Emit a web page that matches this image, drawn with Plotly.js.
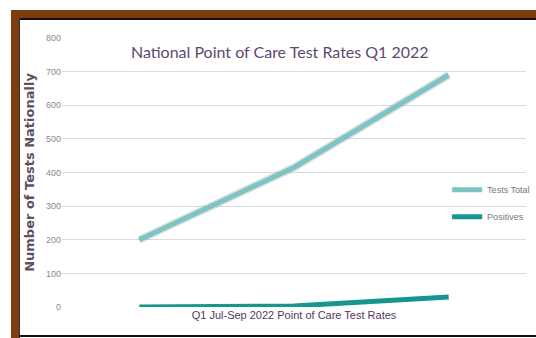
<!DOCTYPE html>
<html>
<head>
<meta charset="utf-8">
<script src="https://cdn.plot.ly/plotly-3.0.1.min.js"></script>
<style>
html,body{margin:0;padding:0;background:#fff;width:536px;height:338px;overflow:hidden;}
.f{position:absolute;}
#chart{position:absolute;left:0;top:0;width:536px;height:338px;}
</style>
</head>
<body>
<div class="f" style="left:11px;top:10px;width:525px;height:8px;background:#7d3c10;"></div>
<div class="f" style="left:11px;top:10px;width:8px;height:328px;background:#7d3c10;"></div>
<div class="f" style="left:19px;top:18px;width:517px;height:2px;background:#111;"></div>
<div class="f" style="left:19px;top:18px;width:1px;height:320px;background:#333;"></div>
<div class="f" style="left:19px;top:335px;width:517px;height:2px;background:#111;"></div>
<div id="chart"></div>
<script>
const months = ["Jul", "Aug", "Sep"];
const testsTotal = [200, 415, 690];
const positives = [0, 3, 30];
const yTicks = [0, 100, 200, 300, 400, 500, 600, 700, 800];

const traces = [
  {x: months, y: testsTotal, type: "scatter", mode: "lines", showlegend: false, hoverinfo: "skip",
   line: {color: "rgba(120,130,130,0.25)", width: 8}},
  {x: months, y: testsTotal, type: "scatter", mode: "lines", name: "Tests Total", legendgroup: "a",
   line: {color: "#7cc5c3", width: 5}},
  {x: months, y: positives, type: "scatter", mode: "lines", name: "Positives", legendgroup: "b",
   line: {color: "#17958f", width: 5}}
];

const layout = {
  width: 536, height: 338,
  paper_bgcolor: "rgba(0,0,0,0)", plot_bgcolor: "rgba(0,0,0,0)",
  margin: {l: 62, r: 10, t: 38, b: 31, autoexpand: false},
  title: {text: "National Point of Care Test Rates Q1 2022", x: 0.522, xanchor: "center", y: 0.845, yanchor: "middle",
          font: {family: "Lato, sans-serif", size: 16, color: "#5c4a70"}},
  xaxis: {type: "category", showticklabels: false, showgrid: false, zeroline: false, showline: false,
          range: [-0.5, 2.5],
          title: {text: "Q1 Jul-Sep 2022 Point of Care Test Rates", standoff: 4,
                  font: {family: "Liberation Sans, Arial, sans-serif", size: 11, color: "#4e3a5e"}}},
  yaxis: {range: [0, 800], tickvals: yTicks, ticktext: yTicks.map(String), showgrid: true, gridcolor: "#dcd8dc", gridwidth: 1,
          zeroline: false, showline: false, ticks: "", ticklen: 0,
          tickfont: {family: "Liberation Sans, Arial, sans-serif", size: 9, color: "#8a8a8a"},
          title: {text: "<b>Number of Tests Nationally</b>", standoff: 8,
                  font: {family: "DejaVu Sans, sans-serif", size: 13, color: "#5a5262"}}},
  legend: {x: 0.83, xanchor: "left", y: 0.49, yanchor: "top", bgcolor: "rgba(0,0,0,0)",
           tracegroupgap: 8, itemwidth: 30,
           font: {family: "Liberation Sans, Arial, sans-serif", size: 9, color: "#777"}},
  showlegend: true
};

Plotly.newPlot("chart", traces, layout, {displayModeBar: false, staticPlot: true});
</script>
</body>
</html>
